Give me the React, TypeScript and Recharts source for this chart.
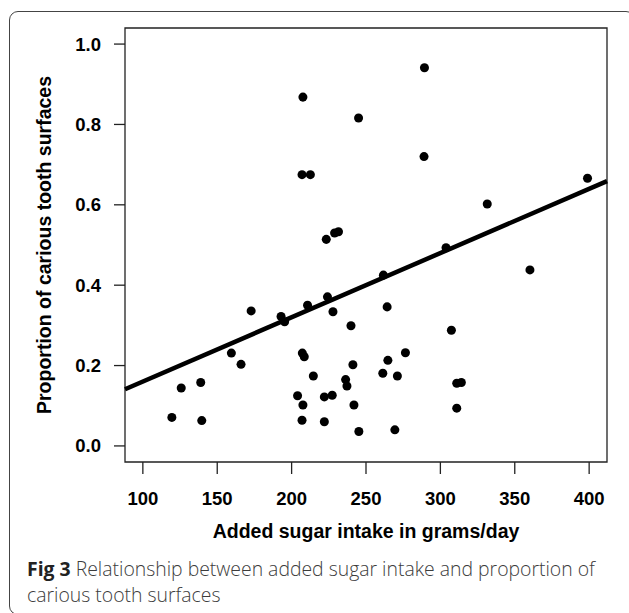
import React from "react";
import {
  ScatterChart,
  Scatter,
  XAxis,
  YAxis,
  ZAxis,
  ReferenceLine,
  ReferenceArea,
} from "recharts";

// added sugar intake (g/day) and proportion of carious surfaces
const sugarIntake = [
  207.6, 245, 207, 212.6, 223.3, 228.9, 231.5, 289.3, 289, 331.5, 398.9, 303.8,
  360.2, 261.7, 172.8, 192.9, 195.3, 210.7, 224.1, 227.8, 239.9, 264.2, 307.4,
  159.5, 166, 207.2, 208.5, 214.6, 236.3, 237.2, 241.2, 264.7, 276.5, 261.3,
  271.1, 311, 314.1, 311, 204, 207.6, 222, 227.3, 241.9, 207, 222, 245.2, 269.4,
  119.5, 125.8, 138.9, 139.6,
];
const cariousProportion = [
  0.868, 0.816, 0.675, 0.675, 0.514, 0.53, 0.533, 0.941, 0.72, 0.602, 0.666,
  0.493, 0.438, 0.425, 0.336, 0.322, 0.309, 0.35, 0.371, 0.334, 0.299, 0.346,
  0.288, 0.231, 0.203, 0.231, 0.222, 0.174, 0.165, 0.149, 0.202, 0.213, 0.232,
  0.181, 0.174, 0.156, 0.158, 0.094, 0.125, 0.102, 0.122, 0.126, 0.102, 0.064,
  0.06, 0.036, 0.04, 0.071, 0.144, 0.158, 0.063,
];

// fitted regression line, ends at the plot edges
const fitX = [88, 412];
const fitY = [0.141, 0.659];

const xTicks = [100, 150, 200, 250, 300, 350, 400];
const yTicks = [0, 0.2, 0.4, 0.6, 0.8, 1.0];
const xDomain = [88, 412];
const yDomain = [-0.04, 1.04];

const xTitle = "Added sugar intake in grams/day";
const yTitle = "Proportion of carious tooth surfaces";

const points = sugarIntake.map((x, i) => ({ x, y: cariousProportion[i] }));

const axisFont = "'Liberation Sans', Arial, Helvetica, sans-serif";
const tickStyle = { fill: "#000", fontSize: 18.5, fontWeight: 700, fontFamily: axisFont };

export default function App() {
  return (
    <div
      style={{
        position: "absolute",
        left: 0,
        top: 0,
        width: 629,
        height: 613,
        overflow: "hidden",
        background: "#fff",
      }}
    >
      <div
        style={{
          position: "absolute",
          left: 9,
          top: 11,
          width: 626,
          height: 604,
          border: "1.5px solid #444",
          borderRadius: 9,
          boxSizing: "border-box",
        }}
      />
      <div style={{ position: "absolute", left: 0, top: 0 }}>
        <ScatterChart
          width={629}
          height={613}
          margin={{ top: 28, right: 22, bottom: 71, left: 0 }}
        >
          <XAxis
            type="number"
            dataKey="x"
            domain={xDomain}
            allowDataOverflow
            ticks={xTicks}
            height={80}
            axisLine={false}
            tickSize={12}
            tickMargin={18}
            tickLine={{ stroke: "#222", strokeWidth: 1.3 }}
            tick={tickStyle}
            label={{
              value: xTitle,
              position: "insideBottom",
              offset: 4,
              fill: "#000",
              fontSize: 19.5,
              fontWeight: 700,
              fontFamily: axisFont,
            }}
          />
          <YAxis
            type="number"
            dataKey="y"
            domain={yDomain}
            allowDataOverflow
            ticks={yTicks}
            width={125}
            axisLine={false}
            tickSize={11}
            tickMargin={13}
            tickLine={{ stroke: "#222", strokeWidth: 1.3 }}
            tick={tickStyle}
            tickFormatter={(v: number) => v.toFixed(1)}
            label={{
              value: yTitle,
              angle: -90,
              position: "insideLeft",
              offset: 44,
              style: { textAnchor: "middle" },
              fill: "#000",
              fontSize: 19.5,
              fontWeight: 700,
              fontFamily: axisFont,
            }}
          />
          <ZAxis range={[62, 62]} />
          <Scatter data={points} fill="#000" isAnimationActive={false} />
          <ReferenceLine
            segment={[
              { x: fitX[0], y: fitY[0] },
              { x: fitX[1], y: fitY[1] },
            ]}
            stroke="#000"
            strokeWidth={4.5}
          />
          <ReferenceArea
            x1={xDomain[0]}
            x2={xDomain[1]}
            y1={yDomain[0]}
            y2={yDomain[1]}
            fill="none"
            fillOpacity={0}
            stroke="#222"
            strokeWidth={1.3}
          />
        </ScatterChart>
      </div>
      <div
        style={{
          position: "absolute",
          left: 27,
          top: 556,
          fontFamily: "'Open Sans', sans-serif",
          fontSize: 19.4,
          lineHeight: "25.6px",
          fontWeight: 300,
          color: "#3c3c3c",
          whiteSpace: "nowrap",
        }}
      >
        <span style={{ fontWeight: 700, color: "#222" }}>Fig 3</span> Relationship
        between added sugar intake and proportion of
        <br />
        carious tooth surfaces
      </div>
    </div>
  );
}
